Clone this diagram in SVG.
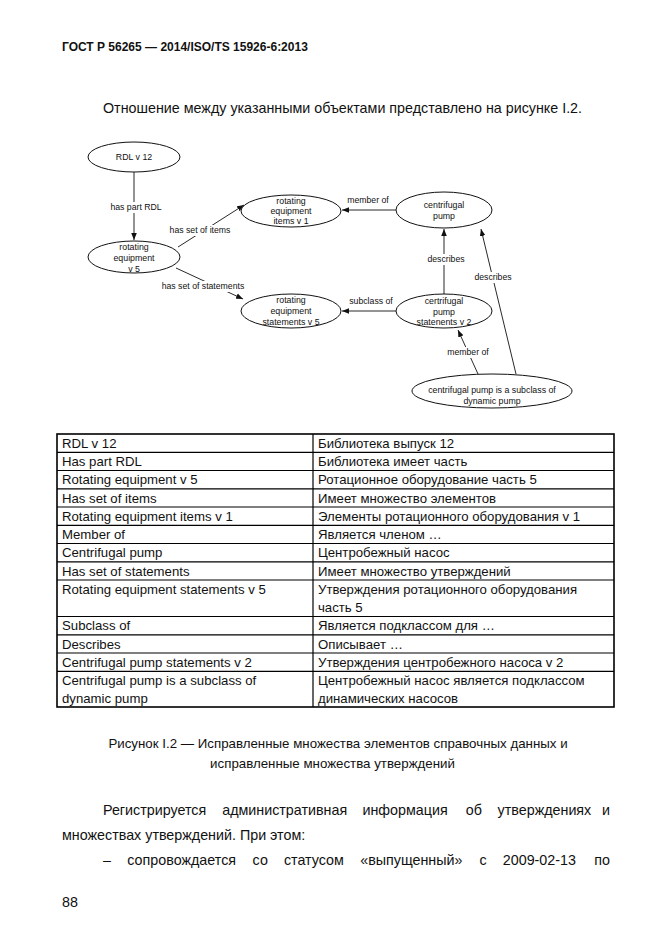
<svg xmlns="http://www.w3.org/2000/svg" width="662" height="935" viewBox="0 0 662 935">
<style>
.pg{font-family:"Liberation Sans",Arial,sans-serif;fill:#111}
.hd{font-size:12px;font-weight:bold}
.body{font-size:14.3px}
.cap{font-size:13.3px}
.tb{font-size:13.2px}
.nd{font-family:"Liberation Sans",Arial,sans-serif;font-size:8.8px;fill:#111;text-anchor:middle}
.node ellipse{fill:#fff;stroke:#111;stroke-width:1}
.conn line{stroke:#111;stroke-width:0.9}
.lbl{font-family:"Liberation Sans",Arial,sans-serif;font-size:8.7px;fill:#111;text-anchor:middle}
.bg{fill:#fff}
.tl{stroke:#000;stroke-width:1.2}
</style>
<defs>
<marker id="ah" viewBox="0 0 10 10" refX="10" refY="5" markerWidth="7" markerHeight="7" orient="auto" markerUnits="userSpaceOnUse">
<path d="M0,1 L10,5 L0,9 z" fill="#111"/>
</marker>
</defs>
<rect width="662" height="935" fill="#fff"/>

<text class="pg hd" x="62" y="51">ГОСТ Р 56265 — 2014/ISO/TS 15926-6:2013</text>
<text class="pg body" x="103" y="113">Отношение между указанными объектами представлено на рисунке I.2.</text>

<g id="connectors" class="conn">
<line x1="134" y1="172" x2="134" y2="240" marker-end="url(#ah)"/>
<line x1="178" y1="247" x2="244" y2="205" marker-end="url(#ah)"/>
<line x1="176" y1="268" x2="243" y2="299" marker-end="url(#ah)"/>
<line x1="396" y1="210" x2="342" y2="210" marker-end="url(#ah)"/>
<line x1="396" y1="311" x2="342" y2="311" marker-end="url(#ah)"/>
<line x1="444" y1="294" x2="444" y2="229" marker-end="url(#ah)"/>
<line x1="478" y1="374" x2="458" y2="330" marker-end="url(#ah)"/>
<line x1="516" y1="374" x2="481" y2="229" marker-end="url(#ah)"/>
<rect class="bg" x="108" y="202" width="56" height="11"/>
<text class="lbl" x="136" y="210">has part RDL</text>
<rect class="bg" x="167" y="225" width="66" height="11"/>
<text class="lbl" x="200" y="233">has set of items</text>
<rect class="bg" x="159" y="281" width="89" height="11"/>
<text class="lbl" x="203" y="289">has set of statements</text>
<text class="lbl" x="368" y="203">member of</text>
<text class="lbl" x="371" y="304">subclass of</text>
<rect class="bg" x="426" y="254" width="40" height="11"/>
<text class="lbl" x="446" y="262">describes</text>
<rect class="bg" x="446" y="347" width="45" height="11"/>
<text class="lbl" x="468" y="355">member of</text>
<rect class="bg" x="473" y="272" width="40" height="11"/>
<text class="lbl" x="493" y="280">describes</text>
</g>

<g id="n-rdl" class="node">
<ellipse cx="134" cy="157" rx="46" ry="15"/>
<text class="nd" x="134" y="160">RDL v 12</text>
</g>
<g id="n-re5" class="node">
<ellipse cx="134" cy="257" rx="46" ry="16"/>
<text class="nd" x="134" y="250">rotating</text>
<text class="nd" x="134" y="261">equipment</text>
<text class="nd" x="134" y="272">v 5</text>
</g>
<g id="n-rei1" class="node">
<ellipse cx="291" cy="211" rx="50" ry="16"/>
<text class="nd" x="291" y="204">rotating</text>
<text class="nd" x="291" y="214">equipment</text>
<text class="nd" x="291" y="224">items v 1</text>
</g>
<g id="n-cp" class="node">
<ellipse cx="444" cy="210" rx="48" ry="18"/>
<text class="nd" x="444" y="208">centrifugal</text>
<text class="nd" x="444" y="219">pump</text>
</g>
<g id="n-res5" class="node">
<ellipse cx="291" cy="311" rx="50" ry="17"/>
<text class="nd" x="291" y="303">rotating</text>
<text class="nd" x="291" y="314">equipment</text>
<text class="nd" x="291" y="325">statements v 5</text>
</g>
<g id="n-cps2" class="node">
<ellipse cx="444" cy="311" rx="48" ry="17"/>
<text class="nd" x="444" y="304">certrifugal</text>
<text class="nd" x="444" y="315">pump</text>
<text class="nd" x="444" y="325">statenents v 2</text>
</g>
<g id="n-sub" class="node">
<ellipse cx="492" cy="391" rx="80" ry="17"/>
<text class="nd" x="492" y="393">centrifugal pump is a subclass of</text>
<text class="nd" x="492" y="404">dynamic pump</text>
</g>

<g id="table">
<rect x="57" y="434" width="557" height="273" fill="none" stroke="#000" stroke-width="1.6"/>
<line class="tl" x1="313" y1="434" x2="313" y2="707"/>
<line class="tl" x1="57" y1="452.3" x2="614" y2="452.3"/>
<line class="tl" x1="57" y1="470.5" x2="614" y2="470.5"/>
<line class="tl" x1="57" y1="488.8" x2="614" y2="488.8"/>
<line class="tl" x1="57" y1="507" x2="614" y2="507"/>
<line class="tl" x1="57" y1="525.3" x2="614" y2="525.3"/>
<line class="tl" x1="57" y1="543.5" x2="614" y2="543.5"/>
<line class="tl" x1="57" y1="561.8" x2="614" y2="561.8"/>
<line class="tl" x1="57" y1="580" x2="614" y2="580"/>
<line class="tl" x1="57" y1="616.5" x2="614" y2="616.5"/>
<line class="tl" x1="57" y1="634.8" x2="614" y2="634.8"/>
<line class="tl" x1="57" y1="653" x2="614" y2="653"/>
<line class="tl" x1="57" y1="671.3" x2="614" y2="671.3"/>
<g class="pg tb">
<text x="62" y="447.5">RDL v 12</text><text x="318" y="447.5">Библиотека выпуск 12</text>
<text x="62" y="466">Has part RDL</text><text x="318" y="466">Библиотека имеет часть</text>
<text x="62" y="484">Rotating equipment v 5</text><text x="318" y="484">Ротационное оборудование часть 5</text>
<text x="62" y="502.5">Has set of items</text><text x="318" y="502.5">Имеет множество элементов</text>
<text x="62" y="520.5">Rotating equipment items v 1</text><text x="318" y="520.5">Элементы ротационного оборудования v 1</text>
<text x="62" y="539">Member of</text><text x="318" y="539">Является членом …</text>
<text x="62" y="557">Centrifugal pump</text><text x="318" y="557">Центробежный насос</text>
<text x="62" y="575.5">Has set of statements</text><text x="318" y="575.5">Имеет множество утверждений</text>
<text x="62" y="593.5">Rotating equipment statements v 5</text><text x="318" y="593.5">Утверждения ротационного оборудования</text>
<text x="318" y="612">часть 5</text>
<text x="62" y="630">Subclass of</text><text x="318" y="630">Является подклассом для …</text>
<text x="62" y="648.5">Describes</text><text x="318" y="648.5">Описывает …</text>
<text x="62" y="666.5">Centrifugal pump statements v 2</text><text x="318" y="666.5">Утверждения центробежного насоса v 2</text>
<text x="62" y="685">Centrifugal pump is a subclass of</text><text x="318" y="685">Центробежный насос является подклассом</text>
<text x="62" y="703">dynamic pump</text><text x="318" y="703">динамических насосов</text>
</g>
</g>

<text class="pg cap" x="338" y="748" text-anchor="middle">Рисунок I.2 — Исправленные множества элементов справочных данных и</text>
<text class="pg cap" x="332.5" y="768" text-anchor="middle">исправленные множества утверждений</text>

<g class="pg body">
<text x="103" y="815">Регистрируется</text>
<text x="222.2" y="815">административная</text>
<text x="362.4" y="815">информация</text>
<text x="465.8" y="815">об</text>
<text x="497.6" y="815">утверждениях</text>
<text x="610" y="815" text-anchor="end">и</text>
<text x="62" y="840">множествах утверждений. При этом:</text>
<text x="103" y="865">–</text>
<text x="127.3" y="865">сопровождается</text>
<text x="252.6" y="865">со</text>
<text x="283.9" y="865">статусом</text>
<text x="360.2" y="865">«выпущенный»</text>
<text x="479.5" y="865">с</text>
<text x="502.8" y="865">2009-02-13</text>
<text x="610" y="865" text-anchor="end">по</text>
<text x="62" y="907">88</text>
</g>
</svg>
